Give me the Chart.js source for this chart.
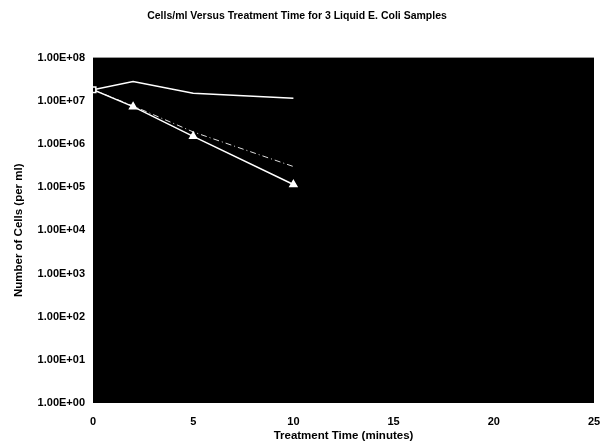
<!DOCTYPE html>
<html>
<head>
<meta charset="utf-8">
<script src="https://cdn.jsdelivr.net/npm/chart.js@4/dist/chart.umd.min.js"></script>
<style>
  html, body { margin: 0; padding: 0; background: #fff; }
  #wrap { width: 601px; height: 443px; }
</style>
</head>
<body>
<div id="wrap"><canvas id="cellsChart"></canvas></div>
<script>
// tiempos de tratamiento (minutos)
var tiempos = [0, 2, 5, 10];
// muestras (celulas por ml)
var muestra1 = [1.8e7, 2.8e7, 1.5e7, 1.15e7];
var muestra2 = [1.8e7, 7.3e6, 1.5e6, 1.15e5];
var muestra3 = [1.8e7, 7.6e6, 1.9e6, 3.0e5];
var yTicks = [1, 10, 100, 1000, 1e4, 1e5, 1e6, 1e7, 1e8];
var xTicks = [0, 5, 10, 15, 20, 25];

function puntos(serie) {
  return tiempos.map(function(t, i) { return { x: t, y: serie[i] }; });
}

// fondo negro del area de la grafica
var fondoNegro = {
  id: 'fondoNegro',
  beforeDraw: function(chart) {
    var a = chart.chartArea, ctx = chart.ctx;
    ctx.save();
    ctx.fillStyle = '#000';
    ctx.fillRect(a.left, a.top, a.right - a.left, a.bottom - a.top);
    ctx.restore();
  }
};

var familia = 'Arial, "Liberation Sans", sans-serif';
var fuenteTicks = { family: familia, weight: 'bold', size: 11 };
var fuenteEjes = { family: familia, weight: 'bold', size: 11.5 };
var fuenteTitulo = { family: familia, weight: 'bold', size: 10.5 };

var cellsChart = new Chart(document.getElementById('cellsChart').getContext('2d'), {
  type: 'line',
  data: {
    datasets: [{
      label: 'Muestra 1',
      data: puntos(muestra1),
      borderColor: '#fff',
      borderWidth: 1.5,
      pointStyle: 'rect',
      pointRadius: [4, 0, 0, 0],
      pointBackgroundColor: '#000',
      pointBorderColor: '#fff',
      pointBorderWidth: 1.5,
      fill: false
    }, {
      label: 'Muestra 2',
      data: puntos(muestra2),
      borderColor: '#fff',
      borderWidth: 1.5,
      pointStyle: 'triangle',
      pointRadius: [0, 4, 4, 4],
      pointBackgroundColor: '#fff',
      pointBorderColor: '#fff',
      fill: false
    }, {
      label: 'Muestra 3',
      data: puntos(muestra3),
      borderColor: '#ddd',
      borderWidth: 1,
      borderDash: [6, 3, 1, 3],
      pointRadius: 0,
      fill: false
    }]
  },
  options: {
    responsive: true,
    maintainAspectRatio: false,
    animation: false,
    layout: { padding: { top: 0, right: 7, bottom: 0, left: 0 } },
    scales: {
      x: {
        type: 'linear',
        min: 0,
        max: 25,
        afterBuildTicks: function(s) { s.ticks = xTicks.map(function(v) { return { value: v }; }); },
        grid: { display: false, drawTicks: false },
        border: { display: false },
        ticks: { color: '#000', font: fuenteTicks, padding: 12 },
        title: { display: true, text: 'Treatment Time (minutes)', color: '#000', font: fuenteEjes, padding: { top: 2, bottom: 0 } },
        afterFit: function(s) { s.height = 40; s.paddingRight = 0; s.paddingLeft = 0; }
      },
      y: {
        type: 'logarithmic',
        min: 1,
        max: 1e8,
        afterBuildTicks: function(s) { s.ticks = yTicks.map(function(v) { return { value: v }; }); },
        grid: { display: false, drawTicks: true, tickLength: 4, color: '#000' },
        border: { display: false },
        ticks: {
          color: '#000',
          font: fuenteTicks,
          padding: 4,
          callback: function(v) {
            var e = Math.round(Math.log10(v));
            return '1.00E+' + (e < 10 ? '0' + e : e);
          }
        },
        title: { display: true, text: 'Number of Cells (per ml)', color: '#000', font: fuenteEjes, padding: { top: 12, bottom: 0 } },
        afterFit: function(s) { s.width = 93; }
      }
    },
    plugins: {
      legend: { display: false },
      tooltip: { enabled: false },
      title: {
        display: true,
        text: 'Cells/ml Versus Treatment Time for 3 Liquid E. Coli Samples',
        color: '#000',
        font: fuenteTitulo,
        padding: { top: 10, bottom: 35 }
      }
    }
  },
  plugins: [fondoNegro]
});
</script>
</body>
</html>
